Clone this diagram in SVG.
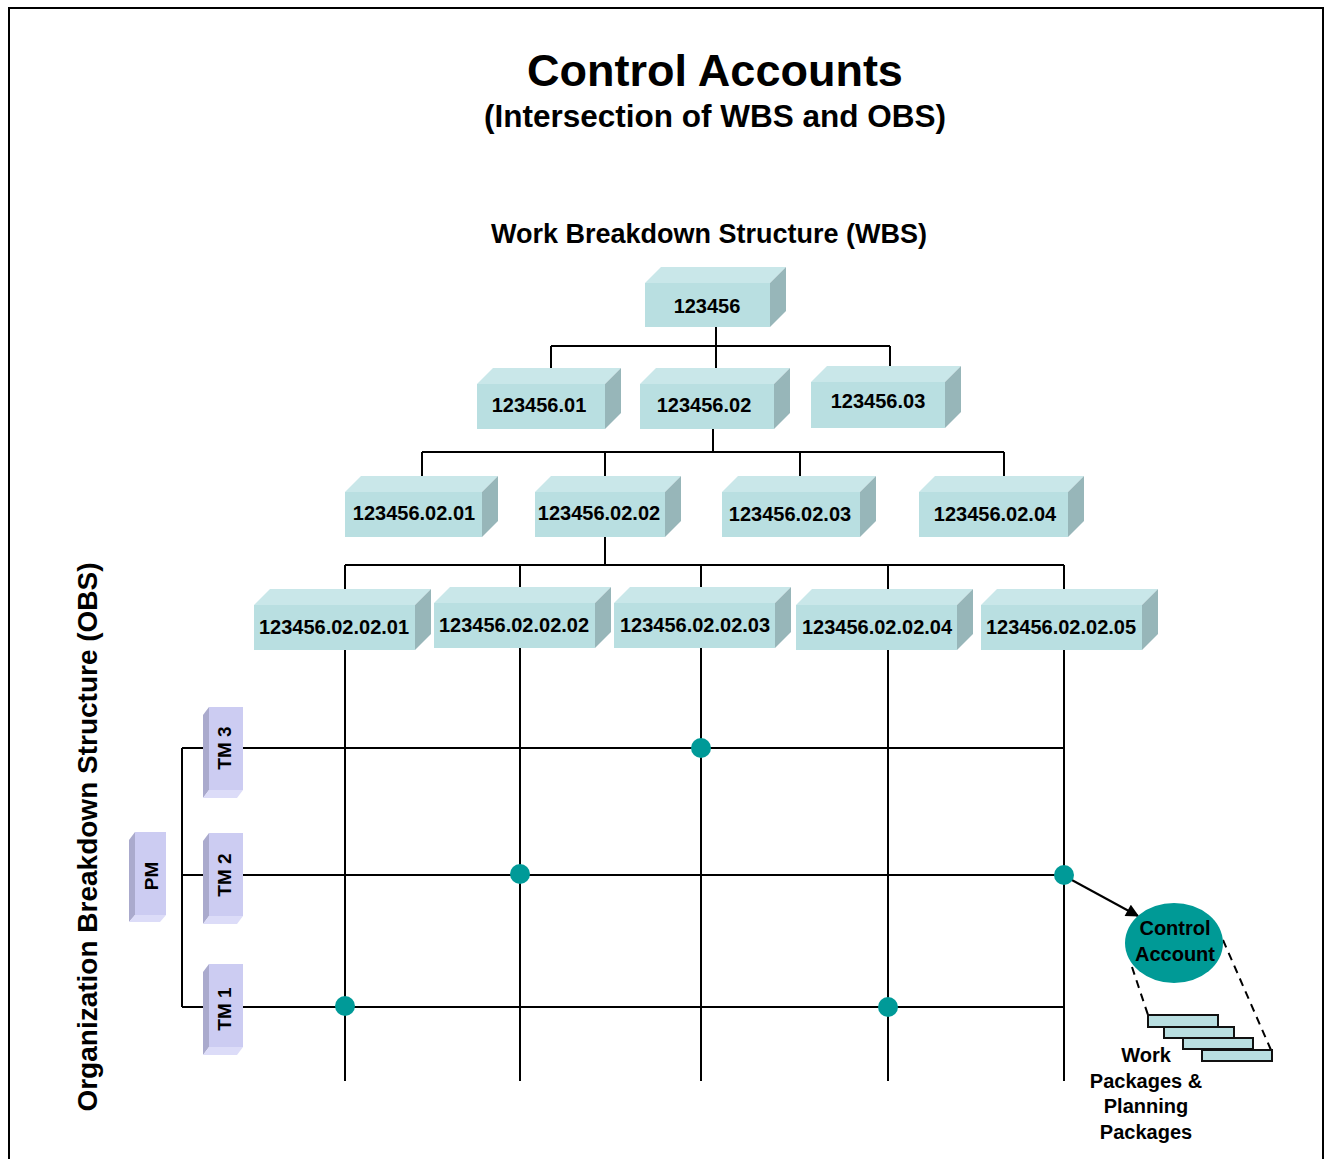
<svg xmlns="http://www.w3.org/2000/svg" width="1328" height="1159" viewBox="0 0 1328 1159">
<defs>
<style>
.t{font-family:"Liberation Sans",Arial,sans-serif;font-weight:bold;fill:#000}
.bf{fill:#B9DFE1}
.bt{fill:#C9E7E9}
.br{fill:#97B6B9}
.of{fill:#CCCCF2}
.ol{fill:#AAAACD}
.ob{fill:#DCDCF8}
.ln{stroke:#000;stroke-width:2;fill:none}
.dot{fill:#009A98}
.lbl{font-size:20px;text-anchor:middle}
.tm{font-size:19px;text-anchor:middle}
</style>
<marker id="ah" viewBox="0 0 10 10" refX="9" refY="5" markerWidth="15" markerHeight="13" markerUnits="userSpaceOnUse" orient="auto">
<path d="M0,0 L10,5 L0,10 z" fill="#000"/>
</marker>
</defs>
<rect width="1328" height="1159" fill="#fff"/>
<path d="M9,1160 V8 H1323 V1160" fill="none" stroke="#000" stroke-width="2"/>

<text class="t" x="715" y="86" font-size="45" text-anchor="middle">Control Accounts</text>
<text class="t" x="715" y="127" font-size="31.5" text-anchor="middle">(Intersection of WBS and OBS)</text>
<text class="t" x="709" y="243" font-size="27" text-anchor="middle">Work Breakdown Structure (WBS)</text>
<text class="t" x="97" y="837" font-size="28" text-anchor="middle" transform="rotate(-90 97 837)">Organization Breakdown Structure (OBS)</text>

<g id="connectors">
<path class="ln" d="M716,327 V346 M551,346 H890 M551,346 V368 M716,346 V368 M890,346 V366"/>
<path class="ln" d="M713,429 V452 M422,452 H1004 M422,452 V476 M605,452 V476 M800,452 V476 M1004,452 V476"/>
<path class="ln" d="M605,537 V565 M345,565 H1064"/>
<path class="ln" d="M345,565 V1081 M520,565 V1081 M701,565 V1081 M888,565 V1081 M1064,565 V1081"/>
<path class="ln" d="M182,748 H1064 M182,875 H1064 M182,1007 H1064 M182,748 V1007"/>
<line class="ln" x1="1070" y1="879" x2="1138" y2="916" marker-end="url(#ah)"/>
<path d="M1132,967 L1148,1015 M1223,940 L1271,1050" stroke="#000" stroke-width="2" stroke-dasharray="8,6" fill="none"/>
</g>

<g id="wbs-1">
<rect class="bf" x="645" y="283" width="125" height="44"/>
<polygon class="bt" points="645,283 661,267 786,267 770,283"/>
<polygon class="br" points="770,283 786,267 786,311 770,327"/>
<text class="t lbl" x="707" y="313">123456</text>
</g>
<g id="wbs-1-01">
<rect class="bf" x="477" y="384" width="128" height="45"/>
<polygon class="bt" points="477,384 493,368 621,368 605,384"/>
<polygon class="br" points="605,384 621,368 621,413 605,429"/>
<text class="t lbl" x="539" y="412">123456.01</text>
</g>
<g id="wbs-1-02">
<rect class="bf" x="640" y="384" width="134" height="45"/>
<polygon class="bt" points="640,384 656,368 790,368 774,384"/>
<polygon class="br" points="774,384 790,368 790,413 774,429"/>
<text class="t lbl" x="704" y="412">123456.02</text>
</g>
<g id="wbs-1-03">
<rect class="bf" x="811" y="382" width="134" height="46"/>
<polygon class="bt" points="811,382 827,366 961,366 945,382"/>
<polygon class="br" points="945,382 961,366 961,412 945,428"/>
<text class="t lbl" x="878" y="408">123456.03</text>
</g>

<g id="wbs-2-01">
<rect class="bf" x="345" y="492" width="137" height="45"/>
<polygon class="bt" points="345,492 361,476 498,476 482,492"/>
<polygon class="br" points="482,492 498,476 498,521 482,537"/>
<text class="t lbl" x="414" y="520">123456.02.01</text>
</g>
<g id="wbs-2-02">
<rect class="bf" x="535" y="492" width="130" height="45"/>
<polygon class="bt" points="535,492 551,476 681,476 665,492"/>
<polygon class="br" points="665,492 681,476 681,521 665,537"/>
<text class="t lbl" x="599" y="520">123456.02.02</text>
</g>
<g id="wbs-2-03">
<rect class="bf" x="722" y="492" width="138" height="45"/>
<polygon class="bt" points="722,492 738,476 876,476 860,492"/>
<polygon class="br" points="860,492 876,476 876,521 860,537"/>
<text class="t lbl" x="790" y="521">123456.02.03</text>
</g>
<g id="wbs-2-04">
<rect class="bf" x="919" y="492" width="149" height="45"/>
<polygon class="bt" points="919,492 935,476 1084,476 1068,492"/>
<polygon class="br" points="1068,492 1084,476 1084,521 1068,537"/>
<text class="t lbl" x="995" y="521">123456.02.04</text>
</g>

<g id="wbs-3-01">
<rect class="bf" x="254" y="605" width="161" height="45"/>
<polygon class="bt" points="254,605 270,589 431,589 415,605"/>
<polygon class="br" points="415,605 431,589 431,634 415,650"/>
<text class="t lbl" x="334" y="634">123456.02.02.01</text>
</g>
<g id="wbs-3-02">
<rect class="bf" x="434" y="603" width="161" height="45"/>
<polygon class="bt" points="434,603 450,587 611,587 595,603"/>
<polygon class="br" points="595,603 611,587 611,632 595,648"/>
<text class="t lbl" x="514" y="632">123456.02.02.02</text>
</g>
<g id="wbs-3-03">
<rect class="bf" x="614" y="603" width="161" height="45"/>
<polygon class="bt" points="614,603 630,587 791,587 775,603"/>
<polygon class="br" points="775,603 791,587 791,632 775,648"/>
<text class="t lbl" x="695" y="632">123456.02.02.03</text>
</g>
<g id="wbs-3-04">
<rect class="bf" x="796" y="605" width="161" height="45"/>
<polygon class="bt" points="796,605 812,589 973,589 957,605"/>
<polygon class="br" points="957,605 973,589 973,634 957,650"/>
<text class="t lbl" x="877" y="634">123456.02.02.04</text>
</g>
<g id="wbs-3-05">
<rect class="bf" x="981" y="605" width="161" height="45"/>
<polygon class="bt" points="981,605 997,589 1158,589 1142,605"/>
<polygon class="br" points="1142,605 1158,589 1158,634 1142,650"/>
<text class="t lbl" x="1061" y="634">123456.02.02.05</text>
</g>

<g id="obs-pm">
<rect class="of" x="135" y="832" width="31" height="83"/>
<polygon class="ol" points="135,832 129,840 129,922 135,915"/>
<polygon class="ob" points="135,915 166,915 160,922 129,922"/>
<text class="t tm" x="158" y="876" transform="rotate(-90 158 876)">PM</text>
</g>
<g id="obs-tm3">
<rect class="of" x="209" y="707" width="34" height="83"/>
<polygon class="ol" points="209,707 203,715 203,798 209,790"/>
<polygon class="ob" points="209,790 243,790 237,798 203,798"/>
<text class="t tm" x="231" y="748" transform="rotate(-90 231 748)">TM 3</text>
</g>
<g id="obs-tm2">
<rect class="of" x="209" y="833" width="34" height="83"/>
<polygon class="ol" points="209,833 203,841 203,924 209,916"/>
<polygon class="ob" points="209,916 243,916 237,924 203,924"/>
<text class="t tm" x="231" y="875" transform="rotate(-90 231 875)">TM 2</text>
</g>
<g id="obs-tm1">
<rect class="of" x="209" y="964" width="34" height="83"/>
<polygon class="ol" points="209,964 203,972 203,1055 209,1047"/>
<polygon class="ob" points="209,1047 243,1047 237,1055 203,1055"/>
<text class="t tm" x="231" y="1009" transform="rotate(-90 231 1009)">TM 1</text>
</g>

<g id="ca-dots">
<circle class="dot" cx="701" cy="748" r="10"/>
<circle class="dot" cx="520" cy="874" r="10"/>
<circle class="dot" cx="1064" cy="875" r="10"/>
<circle class="dot" cx="345" cy="1006" r="10"/>
<circle class="dot" cx="888" cy="1007" r="10"/>
</g>

<g id="control-account">
<ellipse cx="1174" cy="943" rx="49" ry="40" fill="#009A96"/>
<text class="t lbl" x="1175" y="935">Control</text>
<text class="t lbl" x="1175" y="961">Account</text>
</g>

<g id="work-packages">
<rect x="1148" y="1015" width="70" height="12" fill="#B9DFE1" stroke="#111" stroke-width="2"/>
<rect x="1164" y="1027" width="70" height="11" fill="#B9DFE1" stroke="#111" stroke-width="2"/>
<rect x="1183" y="1038" width="70" height="11" fill="#B9DFE1" stroke="#111" stroke-width="2"/>
<rect x="1202" y="1050" width="70" height="11" fill="#B9DFE1" stroke="#111" stroke-width="2"/>
<text class="t lbl" x="1146" y="1062">Work</text>
<text class="t lbl" x="1146" y="1088">Packages &amp;</text>
<text class="t lbl" x="1146" y="1113">Planning</text>
<text class="t lbl" x="1146" y="1139">Packages</text>
</g>
</svg>
